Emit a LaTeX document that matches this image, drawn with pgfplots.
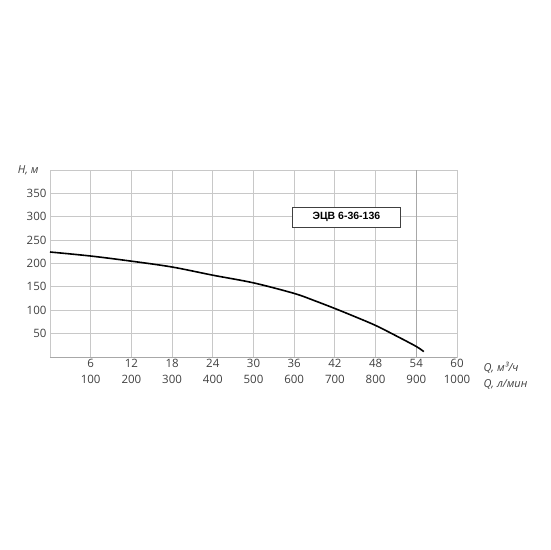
\documentclass[border=0pt]{standalone}
\usepackage{fontspec}
\setmainfont{Open Sans}
\newfontfamily\boxfont{Liberation Sans}
\usepackage{pgfplots}
\pgfplotsset{compat=1.18}
\definecolor{gridgray}{HTML}{C8C8C8}
\definecolor{darkgrid}{HTML}{A8A8A8}
\definecolor{txt}{HTML}{404040}

\begin{document}
\begin{tikzpicture}
\useasboundingbox (-50pt,-193pt) rectangle (500pt,357pt);
\begin{axis}[
    at={(0,0)}, anchor=south west,
    scale only axis,
    width=407pt, height=187pt,
    xmin=0, xmax=60, ymin=0, ymax=400,
    xtick={6,12,...,60},
    xticklabels={{6\\100},{12\\200},{18\\300},{24\\400},{30\\500},{36\\600},{42\\700},{48\\800},{54\\900},{60\\1000}},
    ytick={50,100,...,350},
    major tick length=0pt,
    grid=major,
    major grid style={gridgray, line width=0.8pt},
    axis line style={gridgray, line width=0.8pt},
    /pgf/number format/assume math mode=true,
    tick label style={font=\fontsize{11.5}{16}\selectfont, text=txt},
    xticklabel style={align=center, yshift=1pt},
    clip=false,
]
\draw[darkgrid, line width=0.8pt] (axis cs:54,0) -- (axis cs:54,400);
\draw[darkgrid, line width=1pt] (axis cs:0,0) -- (axis cs:60,0);
\addplot[black, line width=1.6pt, smooth, tension=0.5] coordinates {
    (0,224.6) (6,216) (12,205) (18,192.5) (24,175) (30,158.6)
    (36,136) (39,120.5) (42,103.7) (45,86) (48,67.5) (51,45.5) (54,22.5) (55.1,11.5)
};
\node[draw=txt, fill=white, line width=0.6pt, minimum width=108pt, minimum height=20pt,
      font=\boxfont\bfseries\fontsize{10.5}{12}\selectfont, text=black]
      at (axis cs:43.7,299) {ЭЦВ 6-36-136};
\node[anchor=east, font=\itshape\fontsize{11}{12}\selectfont, text=txt]
      at ([xshift=-8pt]rel axis cs:0,1) {H, м};
\node[anchor=west, font=\itshape\fontsize{11}{12}\selectfont, text=txt]
      at ([xshift=23pt, yshift=-11pt]rel axis cs:1,0) {Q, м³/ч};
\node[anchor=west, font=\itshape\fontsize{11}{12}\selectfont, text=txt]
      at ([xshift=23pt, yshift=-27pt]rel axis cs:1,0) {Q, л/мин};
\end{axis}
\end{tikzpicture}
\end{document}
